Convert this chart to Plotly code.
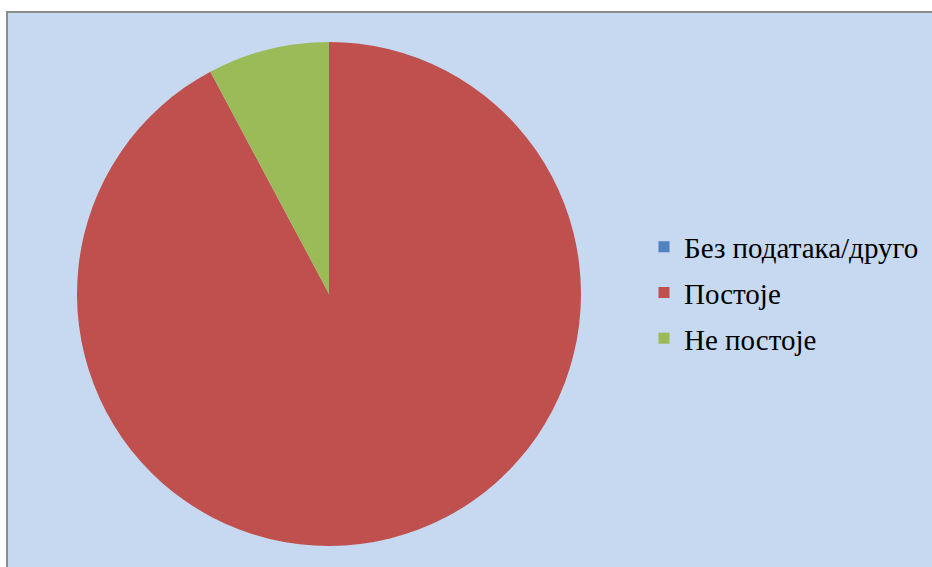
import plotly.graph_objects as go

categories = ["Без података/друго", "Постоје", "Не постоје"]
values = [0, 92.2, 7.8]
colors = ["#4F81BD", "#C0504D", "#9BBB59"]

W, H = 932, 567
FONT = "Liberation Serif, Times New Roman, serif"

fig = go.Figure()
fig.add_trace(go.Pie(
    labels=categories, values=values, sort=False, direction="clockwise", rotation=0,
    marker=dict(colors=colors, line=dict(width=0)),
    textinfo="none", hoverinfo="label+percent", showlegend=False,
    domain=dict(x=[77 / W, 581 / W], y=[1 - 546 / H, 1 - 42 / H]),
))
for c, col in zip(categories, colors):
    fig.add_trace(go.Scatter(
        x=[None], y=[None], mode="markers", name=c, legendgroup=c,
        marker=dict(symbol="square", size=11, color=col),
    ))

fig.add_shape(type="rect", xref="paper", yref="paper",
              x0=7 / W, x1=1.2, y0=-0.2, y1=1 - 12 / H,
              fillcolor="#C6D9F1", line=dict(color="#8C8C8C", width=2), layer="below")

fig.update_layout(
    width=W, height=H,
    margin=dict(l=0, r=0, t=0, b=0),
    paper_bgcolor="white", plot_bgcolor="rgba(0,0,0,0)",
    xaxis=dict(visible=False), yaxis=dict(visible=False),
    font=dict(family=FONT, size=29, color="black"),
    legend=dict(x=644 / W, y=1 - 293 / H, xanchor="left", yanchor="middle",
                bgcolor="rgba(0,0,0,0)", tracegroupgap=5, itemwidth=30,
                font=dict(family=FONT, size=29, color="black")),
)
fig.write_html("out.html", config={"displayModeBar": False},
               post_script="document.body.style.margin='0';document.body.style.overflow='hidden';")
